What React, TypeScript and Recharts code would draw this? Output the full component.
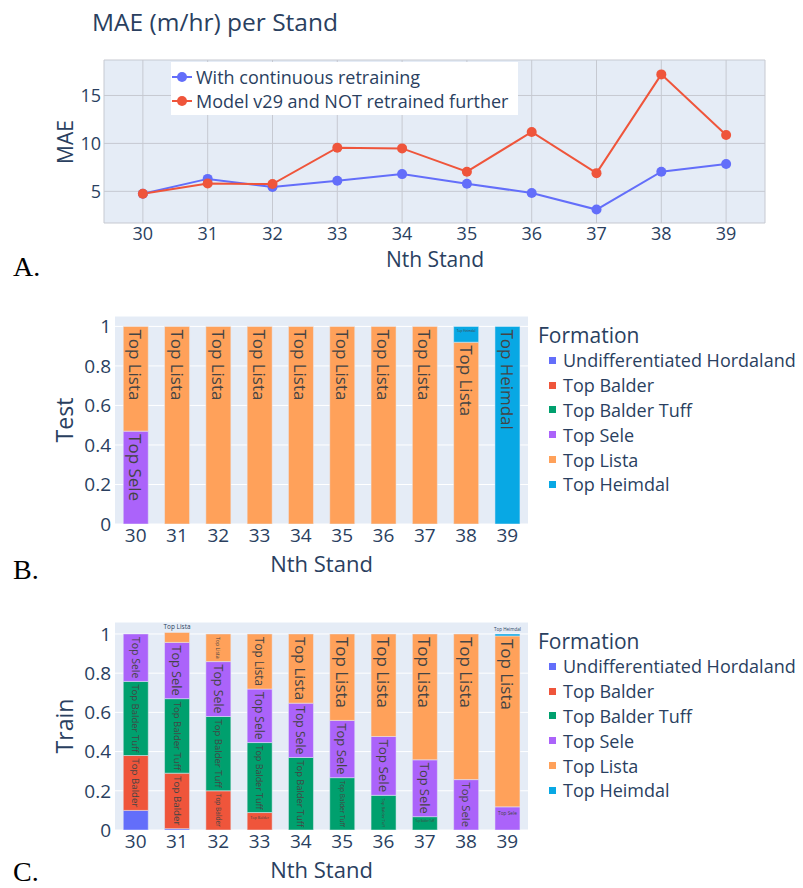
import React from 'react';
import {
  LineChart,
  Line,
  BarChart,
  Bar,
  XAxis,
  YAxis,
  CartesianGrid,
  Legend,
  LabelList,
} from 'recharts';

// ---- data ----
const stands = [30, 31, 32, 33, 34, 35, 36, 37, 38, 39];

// MAE (m/hr) per stand
const maeRetrained = [4.75, 6.3, 5.45, 6.1, 6.8, 5.8, 4.83, 3.1, 7.05, 7.85];
const maeFrozenV29 = [4.75, 5.83, 5.76, 9.55, 9.48, 7.05, 11.2, 6.9, 17.2, 10.87];
const maeTicks = [5, 10, 15];

const formations = [
  'Undifferentiated Hordaland',
  'Top Balder',
  'Top Balder Tuff',
  'Top Sele',
  'Top Lista',
  'Top Heimdal',
];
const formationColors = ['#636EFA', '#EF553B', '#00A06E', '#AB63FA', '#FFA15A', '#08A8E4'];

// Test set share per formation
const testHordaland = [0, 0, 0, 0, 0, 0, 0, 0, 0, 0];
const testBalder = [0, 0, 0, 0, 0, 0, 0, 0, 0, 0];
const testBalderTuff = [0, 0, 0, 0, 0, 0, 0, 0, 0, 0];
const testSele = [0.47, 0, 0, 0, 0, 0, 0, 0, 0, 0];
const testLista = [0.53, 1, 1, 1, 1, 1, 1, 1, 0.92, 0];
const testHeimdal = [0, 0, 0, 0, 0, 0, 0, 0, 0.08, 1];

// Train set share per formation
const trainHordaland = [0.1, 0.007, 0, 0, 0, 0, 0, 0, 0, 0];
const trainBalder = [0.28, 0.283, 0.2, 0.089, 0, 0, 0, 0, 0, 0];
const trainBalderTuff = [0.378, 0.38, 0.379, 0.357, 0.37, 0.267, 0.177, 0.068, 0, 0];
const trainSele = [0.242, 0.287, 0.28, 0.273, 0.277, 0.292, 0.3, 0.29, 0.257, 0.118];
const trainLista = [0, 0.051, 0.141, 0.281, 0.353, 0.441, 0.523, 0.642, 0.743, 0.872];
const trainHeimdal = [0, 0, 0, 0, 0, 0, 0, 0, 0, 0.01];

const shareTicks = [0, 0.2, 0.4, 0.6, 0.8, 1];

// ---- styling ----
const FONT = "'Open Sans', verdana, arial, sans-serif";
const INK = '#2a3f5f';
const PLOT_BG = '#E5ECF6';

const measureCtx = document.createElement('canvas').getContext('2d');
const textWidth = (s: string, fs: number) => {
  if (!measureCtx) return s.length * fs * 0.55;
  measureCtx.font = `${fs}px "Open Sans"`;
  return measureCtx.measureText(s).width;
};

type Row = { stand: string; [k: string]: number | string };

const buildRows = (cols: number[][]): Row[] =>
  stands.map((s, i) => {
    const row: Row = { stand: String(s) };
    formations.forEach((f, j) => {
      row[f] = cols[j][i];
    });
    return row;
  });

const testRows = buildRows([testHordaland, testBalder, testBalderTuff, testSele, testLista, testHeimdal]);
const trainRows = buildRows([trainHordaland, trainBalder, trainBalderTuff, trainSele, trainLista, trainHeimdal]);

const maeRows = stands.map((s, i) => ({
  stand: s,
  retrained: maeRetrained[i],
  frozen: maeFrozenV29[i],
}));

// plotly-like text inside stacked segments: shrink to fit, turn 90deg when that fits better
function segmentLabel(name: string, color: string, rows: Row[]) {
  const above = formations.slice(formations.indexOf(name) + 1);
  return (props: any) => {
    const box = props.viewBox ?? props;
    const { x, y, width, height } = box;
    if (!props.value || !height) return null;
    const row = rows[props.index];
    const isTop = above.every((k) => !row[k]);
    const pad = 3;
    const base = 22;
    const lh = base * 1.12;
    const tw = textWidth(name, base);

    if (isTop && height < 12) {
      const fs = base * Math.min(1, (width + 2) / tw);
      return (
        <text x={x + width / 2} y={y - pad} textAnchor="middle" fontSize={fs} fontFamily={FONT} fill={INK}>
          {name}
        </text>
      );
    }

    const flat = Math.min(1, (width - 2 * pad) / tw, (height - 2 * pad) / lh);
    const turned = Math.min(1, (height - 2 * pad) / tw, (width - 2 * pad) / lh);
    const fs = base * Math.max(flat, turned);
    if (fs < 1.5) return null;
    const fill = color === '#636EFA' ? '#fff' : '#444';
    const cx = x + width / 2;

    if (turned >= flat) {
      const ty = y + pad;
      return (
        <text
          x={cx}
          y={ty}
          transform={`rotate(90 ${cx} ${ty})`}
          dominantBaseline="central"
          fontSize={fs}
          fontFamily={FONT}
          fill={fill}
        >
          {name}
        </text>
      );
    }
    const cy = Math.min(y + height / 2, y + pad + fs * 0.6);
    return (
      <text x={cx} y={cy} textAnchor="middle" dominantBaseline="central" fontSize={fs} fontFamily={FONT} fill={fill}>
        {name}
      </text>
    );
  };
}

const lineSeries = [
  { key: 'retrained', label: 'With continuous retraining', color: '#636EFA' },
  { key: 'frozen', label: 'Model v29 and NOT retrained further', color: '#EF553B' },
];

function MaeLegend() {
  return (
    <div style={{ background: '#fff', width: 347, height: 53, paddingTop: 3, boxSizing: 'border-box' }}>
      {lineSeries.map((s) => (
        <div key={s.key} style={{ display: 'flex', alignItems: 'center', height: 24 }}>
          <svg width={22} height={14}>
            <line x1={1} y1={7} x2={21} y2={7} stroke={s.color} strokeWidth={2} />
            <circle cx={11} cy={7} r={5} fill={s.color} />
          </svg>
          <span style={{ marginLeft: 3, fontSize: 18, color: INK, fontFamily: FONT, whiteSpace: 'nowrap' }}>
            {s.label}
          </span>
        </div>
      ))}
    </div>
  );
}

function FormationLegend() {
  return (
    <div style={{ fontFamily: FONT, color: INK, textAlign: 'left' }}>
      <div style={{ fontSize: 21, height: 25, lineHeight: '25px' }}>Formation</div>
      {formations.map((f, i) => (
        <div key={f} style={{ display: 'flex', alignItems: 'center', height: 24.8 }}>
          <span style={{ width: 7, height: 7, background: formationColors[i], marginLeft: 11, marginRight: 7 }} />
          <span style={{ fontSize: 18, whiteSpace: 'nowrap' }}>{f}</span>
        </div>
      ))}
    </div>
  );
}

const abs = (left: number, top: number): React.CSSProperties => ({ position: 'absolute', left, top });

function AxisTitle({ text, cx, cy, size, vertical }: { text: string; cx: number; cy: number; size: number; vertical?: boolean }) {
  return (
    <div
      style={{
        ...abs(cx, cy),
        transform: `translate(-50%, -50%)${vertical ? ' rotate(-90deg)' : ''}`,
        fontFamily: FONT,
        fontSize: size,
        color: INK,
        whiteSpace: 'nowrap',
        lineHeight: 1,
      }}
    >
      {text}
    </div>
  );
}

function PanelLetter({ text, top }: { text: string; top: number }) {
  return (
    <div
      style={{
        ...abs(13, top),
        fontFamily: "'Liberation Serif', 'DejaVu Serif', serif",
        fontSize: 28,
        lineHeight: 1,
      }}
    >
      {text}
    </div>
  );
}

function ShareChart({ rows, top, max, label }: { rows: Row[]; top: number; max: number; label: string }) {
  return (
    <>
      <div style={abs(0, top)}>
        <BarChart
          width={803}
          height={290}
          data={rows}
          margin={{ top: 26, right: 275, bottom: 0, left: 0 }}
          barCategoryGap="20%"
        >
          <CartesianGrid fill={PLOT_BG} stroke="#fff" vertical={false} />
          <XAxis
            dataKey="stand"
            height={56}
            interval={0}
            tickLine={false}
            axisLine={false}
            tickSize={0}
            tickMargin={5}
            tick={{ fontSize: 19, fill: INK, fontFamily: FONT }}
          />
          <YAxis
            width={115}
            domain={[0, max]}
            ticks={shareTicks}
            allowDataOverflow
            tickLine={false}
            axisLine={false}
            tickSize={0}
            tickMargin={4}
            tickFormatter={(v: number) => String(v)}
            tick={{ fontSize: 19, fill: INK, fontFamily: FONT }}
          />
          {formations.map((f, i) => (
            <Bar
              key={f}
              dataKey={f}
              name={f}
              stackId="share"
              fill={formationColors[i]}
              stroke={PLOT_BG}
              strokeWidth={0.5}
              isAnimationActive={false}
            >
              <LabelList dataKey={f} content={segmentLabel(f, formationColors[i], rows)} />
            </Bar>
          ))}
          <Legend
            layout="horizontal"
            verticalAlign="middle"
            align="center"
            content={() => <FormationLegend />}
            wrapperStyle={{ left: 538, top: 33, width: 265, height: 175 }}
          />
        </BarChart>
      </div>
      <AxisTitle text={label} cx={64} cy={top + 130} size={23} vertical />
      <AxisTitle text="Nth Stand" cx={321.5} cy={top + 273} size={22} />
    </>
  );
}

export default function App() {
  return (
    <div style={{ position: 'absolute', left: 0, top: 0, width: 803, height: 888, background: '#fff' }}>
      {/* A. MAE per stand */}
      <div style={{ ...abs(92, 7), fontFamily: FONT, fontSize: 24.5, color: INK, lineHeight: 1.2 }}>
        MAE (m/hr) per Stand
      </div>
      <div style={abs(0, 0)}>
        <LineChart width={803} height={280} data={maeRows} margin={{ top: 60, right: 38, bottom: 0, left: 0 }}>
          <CartesianGrid fill={PLOT_BG} stroke="#c6c9d1" />
          <XAxis
            dataKey="stand"
            type="number"
            domain={[29.4, 39.6]}
            ticks={stands}
            allowDataOverflow
            height={57}
            tickLine={false}
            axisLine={false}
            tickSize={0}
            tickMargin={4}
            tick={{ fontSize: 18, fill: INK, fontFamily: FONT }}
          />
          <YAxis
            width={104}
            domain={[1.7, 18.7]}
            ticks={maeTicks}
            allowDataOverflow
            tickLine={false}
            axisLine={false}
            tickSize={0}
            tickMargin={3}
            tick={{ fontSize: 18, fill: INK, fontFamily: FONT }}
          />
          {lineSeries.map((s) => (
            <Line
              key={s.key}
              dataKey={s.key}
              name={s.label}
              stroke={s.color}
              strokeWidth={2}
              dot={{ r: 5, fill: s.color, stroke: s.color, strokeWidth: 0 }}
              activeDot={false}
              isAnimationActive={false}
            />
          ))}
          <Legend
            layout="horizontal"
            verticalAlign="middle"
            align="center"
            content={() => <MaeLegend />}
            wrapperStyle={{ left: 171, top: 62, width: 347, height: 53 }}
          />
        </LineChart>
      </div>
      <AxisTitle text="MAE" cx={65} cy={142} size={21} vertical />
      <AxisTitle text="Nth Stand" cx={435} cy={259} size={21} />
      <PanelLetter text="A." top={253} />

      {/* B. Test share */}
      <ShareChart rows={testRows} top={290} max={1.0526} label="Test" />
      <PanelLetter text="B." top={556} />

      {/* C. Train share */}
      <ShareChart rows={trainRows} top={596} max={1.061} label="Train" />
      <PanelLetter text="C." top={858} />
    </div>
  );
}
